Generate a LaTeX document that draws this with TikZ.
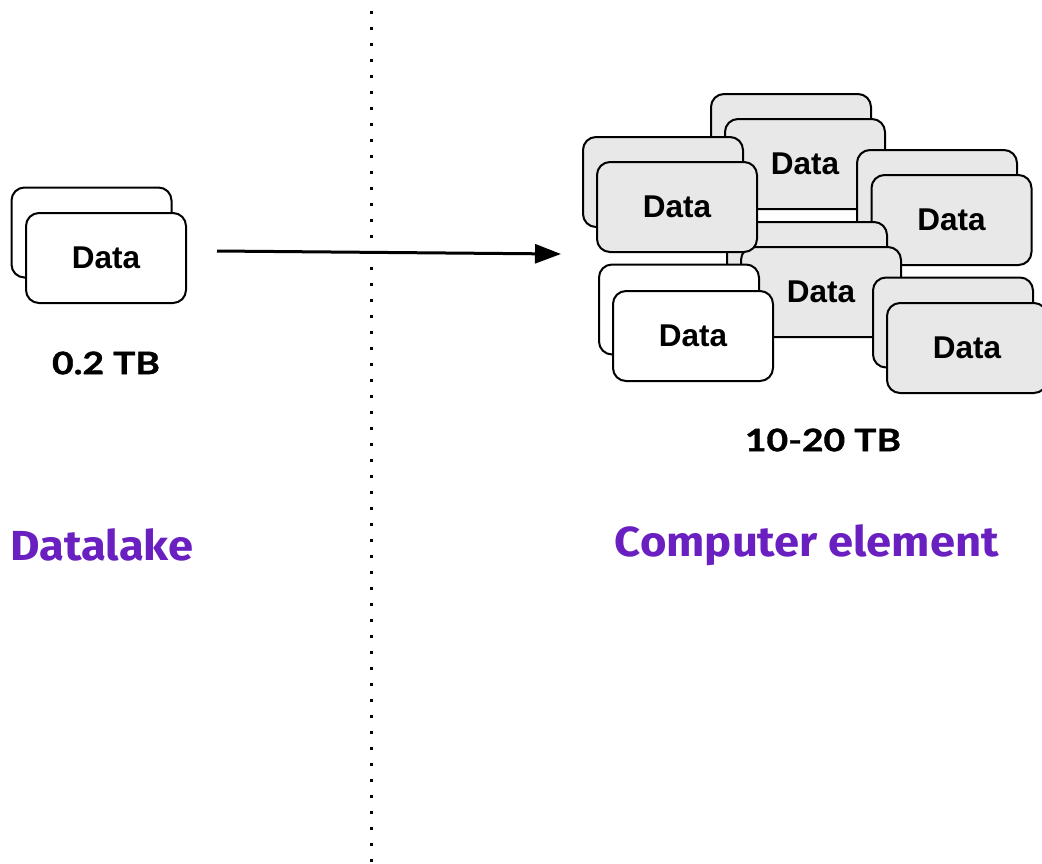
\documentclass[tikz,border=0pt]{standalone}
\usepackage{fontspec}
\usetikzlibrary{arrows.meta}
\newfontfamily\boxfont{Liberation Sans}
\newfontfamily\sizefont{Lato}[FakeStretch=1.2, FakeBold=1.2]
\newfontfamily\titlefont{Fira Sans}[FakeStretch=1.08]
\definecolor{cardgray}{HTML}{E8E8E8}
\definecolor{titlepurple}{RGB}{106,31,192}
\tikzset{
  card/.style={draw=black, line width=2pt, rounded corners=13pt,
    minimum width=160pt, minimum height=90pt, inner sep=0pt,
    font=\boxfont\bfseries\fontsize{31.5}{31.5}\selectfont},
  graycard/.style={card, fill=cardgray},
  whitecard/.style={card, fill=white},
  sizelabel/.style={font=\sizefont\bfseries\fontsize{31}{31}\selectfont, inner sep=0pt},
  titlelabel/.style={font=\titlefont\bfseries\fontsize{42}{42}\selectfont,
    text=titlepurple, inner sep=0pt},
  divider/.style={line width=3pt, dash pattern=on 3pt off 13pt, dash phase=5.5pt},
  flow/.style={line width=3pt, -{Triangle[length=26pt,width=19pt]}}
}
\begin{document}
\begin{tikzpicture}[x=1pt, y=-1pt]
\useasboundingbox (0,0) rectangle (1042,863);

% divider between the two sides
\coordinate (divtop) at (371,0);
\coordinate (divbot) at (371,863);
\draw[divider] (divtop) -- (divbot);

% datalake side
\node[whitecard] (lakeback) at (91.5,232.5) {};
\node[whitecard] (lakefront) at (106,258) {Data};
\node[sizelabel] (lakesize) at (106,363) {0.2 TB};
\node[titlelabel] (laketitle) at (102,545) {Datalake};

% transfer arrow
\coordinate (flowstart) at (217,251);
\coordinate (flowend) at (561,254);
\draw[flow] (flowstart) -- (flowend);

% compute side: stacks of copies
\node[graycard] (topback) at (791,139) {};
\node[graycard] (topfront) at (805,164) {Data};
\node[graycard] (rightback) at (937,195) {};
\node[graycard] (rightfront) at (951.5,220) {Data};
\node[graycard] (midback) at (807,267) {};
\node[graycard] (midfront) at (821,292) {Data};
\node[graycard] (ulback) at (663,182) {};
\node[graycard] (ulfront) at (677,207) {Data};
\node[whitecard] (llback) at (679,309.5) {};
\node[whitecard] (llfront) at (693,336) {Data};
\node[graycard] (lrback) at (953,322.5) {};
\node[graycard] (lrfront) at (967,348) {Data};

\node[sizelabel] (computesize) at (823,440) {10-20 TB};
\node[titlelabel] (computetitle) at (807,545) {Computer element};
\end{tikzpicture}
\end{document}
